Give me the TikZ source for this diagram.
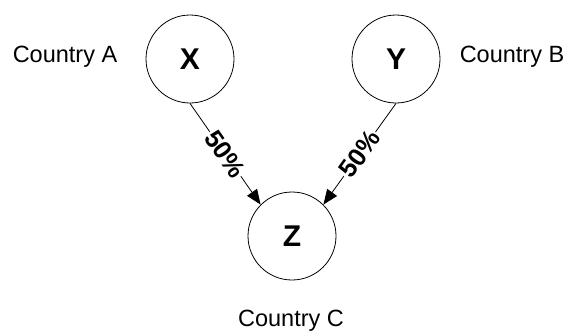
\documentclass[tikz,border=0pt]{standalone}
\usepackage{fontspec}
\setmainfont{Liberation Sans}
\usetikzlibrary{positioning, arrows.meta}
\tikzset{%
  country/.style  = {draw, circle, line width = 0.8pt, minimum size = 88pt,
    inner sep = 0pt, font = \fontsize{30}{34}\selectfont\bfseries},
  share/.style    = {midway, sloped, fill = white, inner sep = 1.5pt,
    font = \fontsize{25.5}{30}\selectfont\bfseries}, % Edge label
  cntlabel/.style = {font = \fontsize{23.5}{28}\selectfont} % Country name
}

\begin{document}
\begin{tikzpicture}[x = 1pt, y = -1pt]
\useasboundingbox (0,0) rectangle (570,333);
%country nodes
\draw
	(190,59) node [country] (nx) {X}
	(396,59) node [country] (ny) {Y}
	(292,236) node [country] (nz) {Z};
%ownership lines
\draw[-{Triangle[length = 15pt, width = 12pt]}, line width = 0.8pt]
	(nx.south) -- node [share] {50\%} (nz.135);
\draw[-{Triangle[length = 15pt, width = 12pt]}, line width = 0.8pt]
	(ny.south) -- node [share] {50\%} (nz.45);
%country names
\node [cntlabel] (ca) at (65,57) {Country A};
\node [cntlabel] (cb) at (512,57) {Country B};
\node [cntlabel] (cc) at (291,321) {Country C};
\end{tikzpicture}
\end{document}
